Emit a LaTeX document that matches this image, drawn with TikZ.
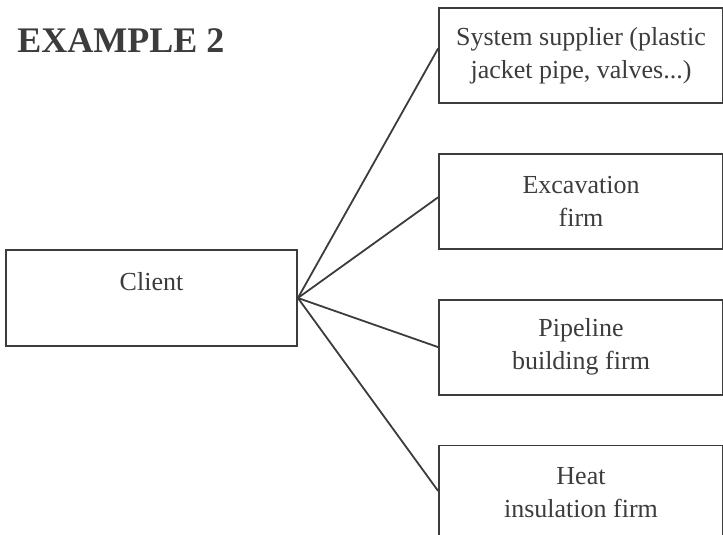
\documentclass[tikz,border=0pt]{standalone}
\usepackage{fontspec}
\setmainfont{Liberation Serif}
\usepackage{tikz}
\usetikzlibrary{positioning}
\definecolor{inkgray}{HTML}{3C3C3C}

\begin{document}
\begin{tikzpicture}[
	node distance=24.5pt,
	box/.style={
		draw=inkgray,
		line width=0.9pt,
		align=center,
		text=inkgray,
		font=\fontsize{13pt}{16.5pt}\selectfont,
		inner sep=0pt
	},
	firm/.style={box,minimum width=142pt,minimum height=47.5pt},
	client/.style={box,minimum width=145.5pt,minimum height=48pt},
	link/.style={draw=inkgray,line width=0.9pt}
	]
	
	\useasboundingbox (0,0) rectangle (361.5pt,-267.5pt);
	\clip (0,0) rectangle (361.5pt,-267.5pt);
	
	\node[anchor=base west,inner sep=0pt,text=inkgray,font=\fontsize{18pt}{20pt}\selectfont\bfseries]
	(title) at (8.5pt,-26.5pt) {EXAMPLE 2};
	
	\node[client] (client) at (75.75pt,-149pt) {Client\\ \mbox{}};
	
	\node[firm] (supplier) at (290.5pt,-27.75pt) {System supplier (plastic\\ jacket pipe, valves...)};
	\node[firm,below=of supplier] (excav) {Excavation\\ firm};
	\node[firm,below=of excav] (pipeline) {Pipeline\\ building firm};
	\node[firm,below=of pipeline] (heat) {Heat\\ insulation firm};
	
	\draw[link] (client.east)--([yshift=3.5pt]supplier.west);
	\draw[link] (client.east)--([yshift=2pt]excav.west);
	\draw[link] (client.east)--(pipeline.west);
	\draw[link] (client.east)--([yshift=1pt]heat.west);
	
\end{tikzpicture}
\end{document}
